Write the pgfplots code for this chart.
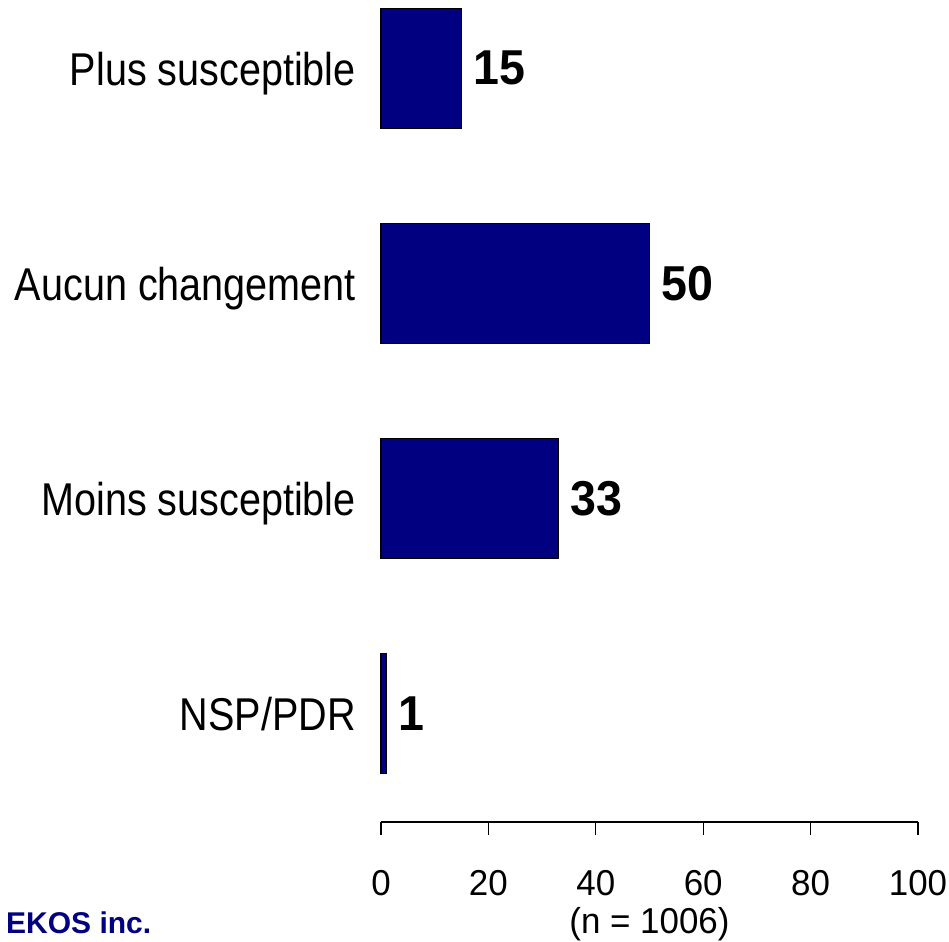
\documentclass[border=0pt]{standalone}
\usepackage{pgfplots}
\pgfplotsset{compat=1.18}
\usepackage{fontspec}
\setmainfont{Liberation Sans}
\newfontfamily\catfont[FakeStretch=0.86]{Liberation Sans}
\newfontfamily\tickfont[FakeStretch=0.97]{Liberation Sans}
\newfontfamily\valfont[FakeStretch=0.95]{Liberation Sans}
\definecolor{barnavy}{RGB}{0,0,128}
\begin{document}
\begin{tikzpicture}
\useasboundingbox (0pt,0pt) rectangle (949pt,941pt);
\begin{axis}[
  at={(381pt,119pt)}, anchor=south west,
  scale only axis, width=537pt, height=819pt,
  xmin=0, xmax=100, ymin=-0.505, ymax=3.304,
  xbar, bar width=120pt,
  axis x line*=bottom, axis y line*=left,
  y axis line style={draw=none},
  x axis line style={line width=1.2pt},
  xtick={0,20,40,60,80,100},
  tick align=outside, major tick length=13pt,
  xtick style={black, line width=1.2pt},
  ytick style={draw=none},
  /pgf/number format/assume math mode=true,
  xticklabel style={font=\tickfont\fontsize{36}{36}\selectfont, anchor=base, yshift=-60pt},
  ytick={0,1,2,3},
  yticklabels={NSP/PDR, Moins susceptible, Aucun changement, Plus susceptible},
  yticklabel style={font=\catfont\fontsize{46}{46}\selectfont, inner sep=0pt, anchor=base east, xshift=-12pt, yshift=-17pt},
  xlabel={(n = 1006)},
  xlabel style={font=\tickfont\fontsize{36}{36}\selectfont, at={(axis description cs:0.5,0)}, anchor=base, yshift=-111pt},
  clip=false,
  nodes near coords,
  nodes near coords style={font=\valfont\bfseries\fontsize{49}{49}\selectfont, anchor=west, xshift=8pt, text=black},
  point meta=explicit symbolic,
]
\addplot[fill=barnavy, draw=black, line width=1.2pt] coordinates {
  (1,0) [1]
  (33,1) [33]
  (50,2) [50]
  (15,3) [15]
};
\end{axis}
\node[anchor=base west, font=\bfseries\fontsize{30}{30}\selectfont, text=barnavy, inner sep=0pt] at (6pt,8pt) {EKOS inc.};
\end{tikzpicture}
\end{document}
